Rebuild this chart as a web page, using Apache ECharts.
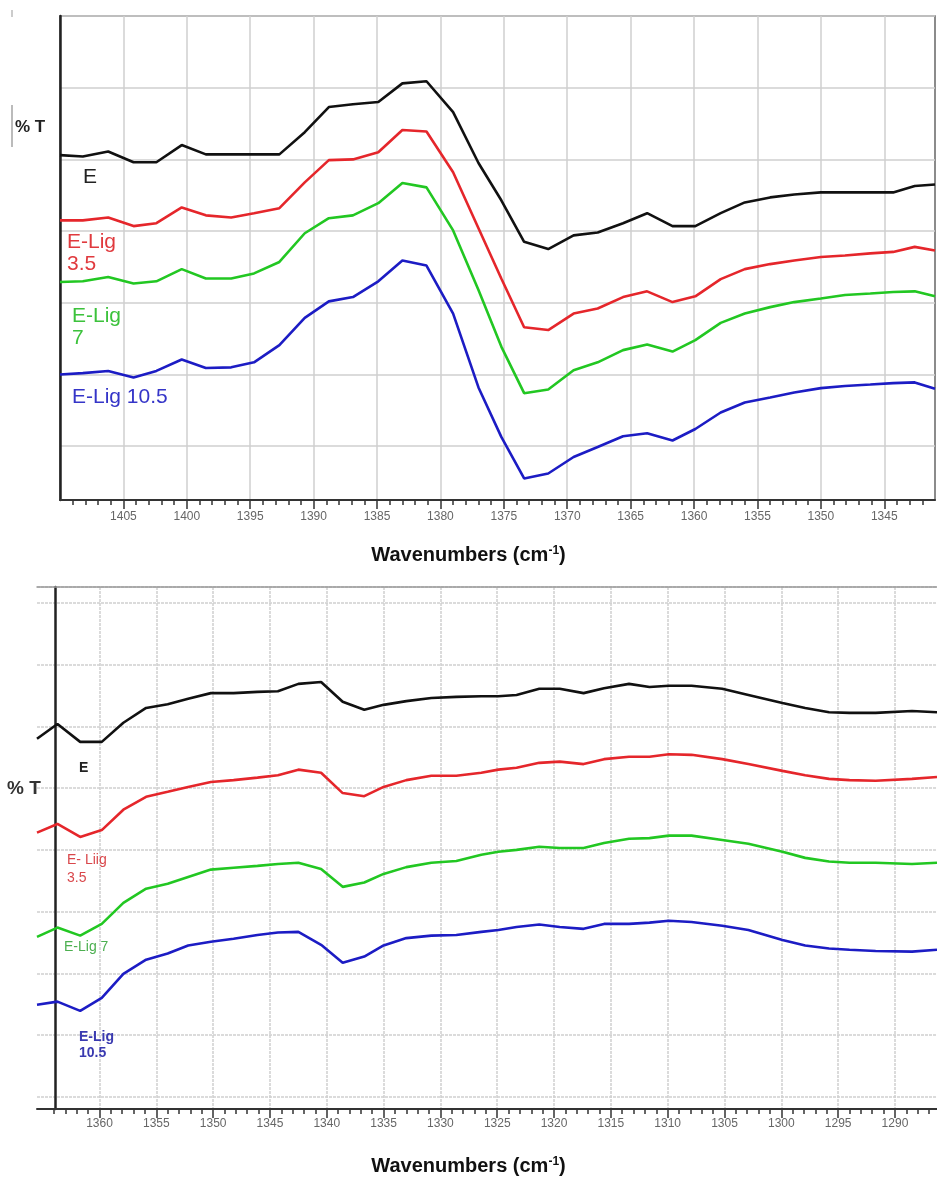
<!DOCTYPE html>
<html>
<head>
<meta charset="utf-8">
<script src="https://cdn.jsdelivr.net/npm/echarts@6/dist/echarts.min.js"></script>
<style>
html,body{margin:0;padding:0;background:#fff;}
#chart{width:937px;height:1179px;}
</style>
</head>
<body>
<div id="chart"></div>
<script>
// ---------- Top panel data (1410 - 1341 cm-1) ----------
const topWavenumbers = [1410,1408.2,1406.2,1404.2,1402.4,1400.4,1398.5,1396.5,1394.7,1392.7,1390.7,1388.8,1386.9,1384.9,1383.0,1381.1,1379.0,1377.0,1375.2,1373.4,1371.5,1369.5,1367.6,1365.6,1363.7,1361.7,1359.9,1357.9,1356.0,1354.0,1352.1,1350.0,1348.1,1346.1,1344.3,1342.6,1341.0];
const topE      = [50.6,50.4,51.1,49.6,49.6,52.0,50.7,50.7,50.7,50.7,53.8,57.3,57.7,58.0,60.6,60.9,56.6,49.5,44.3,38.5,37.5,39.4,39.8,41.1,42.5,40.7,40.7,42.5,44.0,44.7,45.1,45.4,45.4,45.4,45.4,46.3,46.5];
const topLig35  = [41.5,41.5,41.9,40.7,41.1,43.3,42.2,41.9,42.5,43.2,46.8,49.9,50.0,51.0,54.1,53.9,48.2,40.4,33.4,26.6,26.2,28.5,29.2,30.8,31.6,30.1,30.9,33.3,34.7,35.4,35.9,36.4,36.6,36.9,37.1,37.8,37.3];
const topLig7   = [32.9,33.0,33.6,32.7,33.0,34.7,33.4,33.4,34.1,35.7,39.7,41.8,42.2,43.9,46.7,46.1,40.1,31.8,23.9,17.4,17.9,20.6,21.7,23.4,24.2,23.2,24.8,27.2,28.5,29.4,30.1,30.6,31.1,31.3,31.5,31.6,30.9];
const topLig105 = [20.0,20.2,20.5,19.6,20.5,22.1,20.9,21.0,21.7,24.1,27.9,30.2,30.8,33.0,35.9,35.2,28.5,18.2,11.3,5.5,6.2,8.5,9.9,11.4,11.8,10.8,12.4,14.7,16.1,16.8,17.5,18.1,18.4,18.6,18.8,18.9,18.0];
const topTickValues = [1405,1400,1395,1390,1385,1380,1375,1370,1365,1360,1355,1350,1345];

// ---------- Bottom panel data (1365.5 - 1286.3 cm-1) ----------
const bottomWavenumbers = [1365.5,1363.7,1361.7,1359.8,1357.9,1355.9,1354.0,1352.2,1350.2,1348.2,1346.1,1344.3,1342.5,1340.5,1338.6,1336.7,1335.0,1333.0,1330.8,1328.6,1326.4,1324.9,1323.3,1321.3,1319.5,1317.4,1315.6,1313.4,1311.6,1309.9,1307.9,1305.2,1302.9,1299.9,1297.9,1295.8,1294.0,1291.7,1288.5,1286.3];
const bottomE      = [68.0,70.4,67.5,67.5,70.6,73.0,73.6,74.5,75.4,75.4,75.6,75.7,76.9,77.2,74.0,72.7,73.5,74.1,74.6,74.8,74.9,74.9,75.1,76.1,76.1,75.4,76.2,76.9,76.4,76.6,76.6,76.1,75.1,73.8,73.0,72.3,72.2,72.2,72.5,72.3];
const bottomLig35  = [52.8,54.2,52.1,53.2,56.5,58.6,59.4,60.2,61.0,61.3,61.7,62.1,63.0,62.5,59.2,58.7,60.2,61.3,62.0,62.0,62.5,63.0,63.3,64.1,64.3,63.9,64.7,65.1,65.1,65.5,65.4,64.7,63.9,62.8,62.1,61.5,61.3,61.2,61.5,61.8];
const bottomLig7   = [35.9,37.4,36.1,38.0,41.4,43.7,44.5,45.6,46.8,47.1,47.4,47.7,47.9,46.9,44.0,44.7,46.1,47.2,47.9,48.2,49.2,49.7,50.0,50.5,50.3,50.3,51.1,51.8,51.9,52.3,52.3,51.6,51.0,49.7,48.7,48.1,47.9,47.9,47.7,47.9];
const bottomLig105 = [24.9,25.4,23.9,26.0,29.9,32.2,33.2,34.5,35.1,35.6,36.2,36.6,36.7,34.6,31.7,32.7,34.5,35.7,36.1,36.2,36.7,37.0,37.5,37.9,37.5,37.2,38.0,38.0,38.2,38.5,38.3,37.7,37.0,35.4,34.5,34.0,33.8,33.6,33.5,33.8];
const bottomTickValues = [1360,1355,1350,1345,1340,1335,1330,1325,1320,1315,1310,1305,1300,1295,1290];

const seriesNames = ['E', 'E-Lig 3.5', 'E-Lig 7', 'E-Lig 10.5'];
const seriesColors = ['#111111', '#e5262b', '#22c722', '#1c1cc4'];
const xTitle = 'Wavenumbers (cm';

const FONT = '"Liberation Sans", Arial, sans-serif';

function pair(xs, ys) { return xs.map((x, i) => [x, ys[i]]); }
function unitTicks(from, to) { const a = []; for (let v = from; v <= to; v++) a.push(v); return a; }
const topMinorTicks = unitTicks(1342, 1409);
const bottomMinorTicks = unitTicks(1287, 1364);

function makeXAxis(gridIndex, min, max, ticks, margin) {
  return {
    type: 'value', gridIndex: gridIndex, position: 'bottom', inverse: true, min: min, max: max,
    axisLine: { show: true, onZero: false, lineStyle: { color: '#333', width: 2 } },
    axisTick: { show: true, inside: false, length: 9, customValues: ticks, lineStyle: { color: '#333', width: 1.5 } },
    axisLabel: { show: true, customValues: ticks, margin: margin, formatter: v => String(v),
      color: '#666', fontSize: 12, fontFamily: FONT },
    splitLine: { show: true, lineStyle: { color: '#cfcfcf', width: 1.5, type: gridIndex === 1 ? [3, 1] : 'solid' } }
  };
}
function makeMinorAxis(gridIndex, min, max, ticks) {
  return {
    type: 'value', gridIndex: gridIndex, position: 'bottom', offset: 0, inverse: true, min: min, max: max,
    axisLine: { show: false, onZero: false },
    axisTick: { show: true, inside: false, length: 5, customValues: ticks, lineStyle: { color: '#333', width: 1.5 } },
    axisLabel: { show: false }, splitLine: { show: false }
  };
}
function makeYAxis(gridIndex, min, max, offset) {
  return {
    type: 'value', gridIndex: gridIndex, min: min, max: max, offset: offset,
    minInterval: 10, maxInterval: 10, splitNumber: 8,
    axisLine: { show: true, lineStyle: { color: '#222', width: 2.5 } },
    axisTick: { show: false }, axisLabel: { show: false },
    splitLine: { show: true, lineStyle: { color: '#cfcfcf', width: 1.5, type: gridIndex === 1 ? [3, 1] : 'solid' } }
  };
}

const topSets = [topE, topLig35, topLig7, topLig105];
const bottomSets = [bottomE, bottomLig35, bottomLig7, bottomLig105];
const series = [];
topSets.forEach((d, i) => series.push({
  name: seriesNames[i], type: 'line', xAxisIndex: 0, yAxisIndex: 0,
  data: pair(topWavenumbers, d), symbol: 'none', clip: false,
  lineStyle: { color: seriesColors[i], width: 2.6 }, z: 5
}));
bottomSets.forEach((d, i) => series.push({
  name: seriesNames[i], type: 'line', xAxisIndex: 2, yAxisIndex: 1,
  data: pair(bottomWavenumbers, d), symbol: 'none', clip: false,
  lineStyle: { color: seriesColors[i], width: 2.6 }, z: 5
}));

function txt(text, left, top, size, color, bold, lh) {
  return { type: 'text', left: left, top: top, z: 10,
    style: { text: text, fill: color, font: (bold ? 'bold ' : '') + size + 'px ' + FONT, lineHeight: lh || size * 1.1 } };
}
function title(top) {
  return { type: 'text', left: 'center', top: top, z: 10,
    style: { text: '{a|' + xTitle + '}{s|-1}{a|)}', fill: '#111',
      rich: { a: { fontSize: 20, fontWeight: 'bold', fontFamily: FONT, fill: '#111' },
              s: { fontSize: 12, fontWeight: 'bold', fontFamily: FONT, fill: '#111', padding: [0, 0, 9, 0] } } } };
}

const topBorder = {
  type: 'value', gridIndex: 1, position: 'top', inverse: true, min: 1286.3, max: 1365.5,
  axisLine: { show: true, onZero: false, lineStyle: { color: '#999', width: 1.5 } },
  axisTick: { show: false }, axisLabel: { show: false }, splitLine: { show: false }
};

const option = {
  animation: false,
  backgroundColor: '#ffffff',
  grid: [
    { left: 60, top: 16, width: 875, height: 484, show: true, borderColor: '#666', borderWidth: 1.5, containLabel: false },
    { left: 37, top: 587, width: 900, height: 522, show: false, containLabel: false }
  ],
  xAxis: [
    makeXAxis(0, 1341, 1410, topTickValues, 11),
    makeMinorAxis(0, 1341, 1410, topMinorTicks),
    makeXAxis(1, 1286.3, 1365.5, bottomTickValues, 9),
    makeMinorAxis(1, 1286.3, 1365.5, bottomMinorTicks),
    topBorder
  ],
  yAxis: [ makeYAxis(0, 2.5, 70, 0), makeYAxis(1, 8, 92.6, -18) ],
  series: series,
  graphic: [
    { type: 'rect', shape: { x: 11, y: 105, width: 2, height: 42 }, style: { fill: '#bbb' } },
    { type: 'rect', shape: { x: 11, y: 10, width: 2, height: 7 }, style: { fill: '#ccc' } },
    txt('% T', 15, 118, 17, '#222', true),
    txt('E', 83, 166, 21, '#222', false),
    txt('E-Lig\n3.5', 67, 231, 21, '#e03a3e', false, 22),
    txt('E-Lig\n7', 72, 305, 21, '#3cc23c', false, 22),
    txt('E-Lig 10.5', 72, 386, 21, '#3535c8', false),
    title(545),
    txt('% T', 7, 778, 19, '#333', true),
    txt('E', 79, 760, 14, '#222', true),
    txt('E- Liig\n3.5', 67, 851, 14, '#d9474b', false, 18),
    txt('E-Lig 7', 64, 939, 14, '#4caf50', false),
    txt('E-Lig\n10.5', 79, 1029, 14, '#3a3ab0', true, 16),
    title(1156)
  ]
};

const chart = echarts.init(document.getElementById('chart'), null, { renderer: 'canvas' });
chart.setOption(option);
</script>
</body>
</html>
